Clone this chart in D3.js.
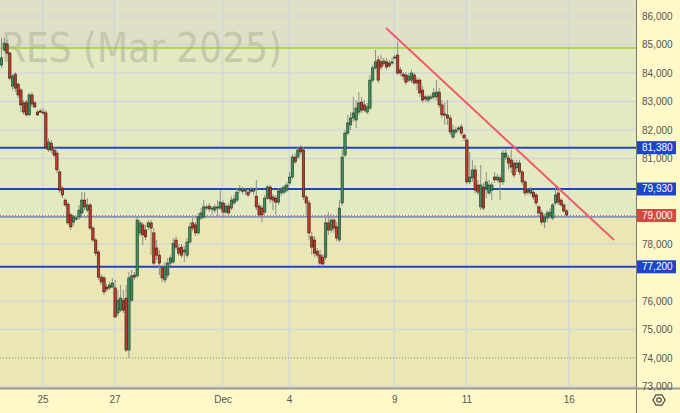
<!DOCTYPE html>
<html><head><meta charset="utf-8">
<script src="https://cdn.jsdelivr.net/npm/d3@7"></script>
<style>body{margin:0;background:#fff9c9;overflow:hidden}svg{display:block}</style>
</head><body><svg id="c" width="680" height="413"></svg>
<script>
const opens=[84280,84810,85020,84700,83540,83960,83610,83400,82950,82980,82530,83230,82950,82630,82670,82630,82600,81300,81540,81300,81190,80530,79960,79540,79400,79020,78770,78880,78950,79090,79540,79190,79370,78560,78140,77720,76840,76810,76490,76460,76490,76460,75580,75680,76030,76100,74280,76030,76910,76880,78390,78670,78490,78600,78740,78390,77860,77610,77160,76740,76910,77330,77370,78140,77860,77890,77720,77610,78070,78740,78670,78390,78910,78950,79260,79330,79230,79190,79260,79260,79440,79120,79330,79260,79440,79540,79890,79890,79860,79820,79890,79860,79680,79330,79260,79120,79610,80000,79650,79610,79470,79790,79820,79890,80140,80350,81050,81050,81370,81300,79650,79440,78250,78140,77750,77610,77540,77540,78740,78490,78840,78600,78140,79440,81120,81890,82180,82420,82350,82630,82980,82880,82630,82770,83750,84180,84460,84390,84320,84390,84350,84350,84530,84630,84110,83960,83930,83750,83750,83930,83750,83750,83400,83160,83050,83120,83160,83160,83330,82880,82560,82530,82420,81750,81930,82030,82110,81820,81650,80180,80320,80600,80070,79300,80000,79960,79790,79890,80350,80250,80320,80180,81050,81020,80950,80840,80670,80840,80530,80180,79890,79790,79820,79720,79300,79090,78770,78910,78980,78910,79440,79790,79540,79370,79160];
const highs=[85230,85230,85160,84740,83960,84030,83680,83470,83050,83050,83300,83330,83020,82700,82740,82770,82700,81720,81650,81400,81300,80600,80030,79610,79470,79090,79020,78980,79370,79820,79820,79610,79440,78630,78210,77790,76950,76880,76600,76670,76810,76740,76390,76560,76390,76560,77020,77090,77020,78950,78840,78770,78670,78840,78840,78560,78140,77790,77260,77370,77510,77610,78210,78280,78000,78000,77930,78210,78770,78910,78770,79090,79260,79540,79370,79440,79330,79400,79540,79890,79540,79440,79440,79680,79720,79960,80070,80000,79960,79930,80000,79930,80250,79440,79370,79720,80070,80070,79750,79720,79960,80000,80070,80180,80530,81160,81190,81400,81470,81400,79720,79540,78420,78280,77860,77790,77650,79020,79120,79050,79020,78770,79540,81300,82000,82530,82630,83160,83050,83330,83160,83050,82950,83930,84280,84810,84600,84630,84530,84530,84460,84530,84630,85090,84210,84030,84030,84000,84110,84030,83860,83820,83540,83230,83230,83260,83470,83750,83470,83050,82980,83050,82530,82180,82110,82140,82210,81890,81720,81230,80950,80770,80250,80770,80140,80530,80250,80180,80530,80460,80420,81300,81370,81120,81300,80950,80950,80950,80600,80250,79960,80000,79890,79790,79370,79190,79050,79190,79260,79440,80000,79890,79610,79440,79230];
const lows=[84180,84740,84630,83750,83400,83330,83120,82630,82530,82460,82490,82810,82770,82490,82600,82530,81300,81230,81190,81050,80490,79790,79610,79300,78670,78490,78630,78810,78840,79020,79190,79120,78490,78070,77580,76740,76560,76210,76320,76390,76460,75400,75470,75610,75580,74210,74000,75960,76740,76810,78280,77960,78140,78490,77610,77260,77440,76910,76670,76630,76810,77230,77300,77790,77580,77510,77370,77510,78000,78460,78280,78320,78840,78880,79190,79120,79020,79090,78910,79190,78910,79050,79020,79190,79370,79470,79790,79750,79720,79650,79790,79720,79190,78950,78770,79050,79540,79440,79190,79020,79370,79680,79750,79820,80070,80280,80810,80980,81120,79540,79020,78140,77610,77540,77510,77260,77230,77440,78320,78390,78390,78100,78070,79330,81050,81820,82000,82280,82070,82530,82600,82630,82560,82700,83680,84110,83650,84110,84250,84110,84180,84280,84460,83930,83890,83750,83580,83680,83650,83580,83400,83160,82950,82980,82950,83050,83050,83050,82770,82420,82180,82180,81820,81680,81860,81960,81820,81610,80100,80100,80180,79790,79720,79190,79190,79610,79720,79540,80140,80180,79540,80070,80950,80600,80490,80320,80530,80420,80070,79680,79720,79720,79540,79330,78980,78670,78560,78770,78880,78840,79370,79370,79300,79090,78980];
const closes=[84530,85050,84700,83820,83890,83470,83230,82880,82630,82530,83230,82910,82810,82530,82630,82600,81370,81580,81300,81120,80600,79890,79720,79370,78740,78600,78950,78910,79190,79540,79300,79370,78560,78140,77680,76840,76670,76320,76420,76560,76630,75440,76030,76100,75680,74280,76810,76880,76840,78840,78740,78320,78250,78740,78560,77330,77610,77330,76810,77190,77330,77510,78030,77890,77680,77610,77790,78070,78600,78560,78390,78950,79090,79300,79300,79230,79260,79300,79300,79470,79120,79330,79090,79540,79580,79820,79930,79860,79890,79720,79860,79890,79300,79020,79020,79610,80000,79580,79540,79470,79860,79890,80000,80070,80350,81050,80880,81300,81230,79650,79440,78390,77890,77680,77610,77330,77300,78740,78490,78840,78560,78210,79260,81050,81890,82250,82420,82600,82770,82950,82700,82700,82810,83750,84180,84390,83750,84210,84420,84210,84250,84390,84560,84000,84000,83890,83680,83890,84000,83650,83650,83300,83050,83090,83160,83160,83300,83330,82880,82530,82530,82420,81930,82000,82000,82070,81890,81720,80180,80350,80600,79890,79820,80070,79260,80180,80070,80070,80250,80350,80180,81190,81190,80840,80700,80420,80840,80530,80180,79790,79820,79890,79650,79440,79090,78770,78950,79090,79120,79370,79720,79470,79370,79160,79020];

// tick labels visible on the price axis (80,000 / 79,000 / 77,000 are hidden behind the price badges)
const yTicks=[86000,85000,84000,83000,82000,81000,78000,76000,75000,74000,73000];
const gridPrices=[86000,85000,84000,83000,82000,81000,78000,76000,75000,73000];
const xTickIdx=[15,41,80,104,142,168,205];
const xTickLabels=["25","27","Dec","4","9","11","16"];
const levelPrices=[81380,79930,77200];
const lastPrice=79000;
const greenLinePrice=84880;
const thinBluePrice=78950;
const dottedGreyPrice=74000;
const trendIdx=[139,221.3];
const trendPrice=[85580,78140];
const watermark="RES (Mar 2025)";

const plotR=636, plotB=388;
const svg=d3.select("#c");
const x=d3.scaleLinear().domain([0,204]).range([1,566.1]);
const y=d3.scaleLinear().domain([73000,86000]).range([386.5,16]);

svg.append("rect").attr("width",680).attr("height",413).attr("fill","#fff9c9");
svg.append("defs").append("clipPath").attr("id","plot").append("rect").attr("width",plotR).attr("height",plotB);
const g=svg.append("g").attr("clip-path","url(#plot)");

g.append("rect").attr("x",0).attr("y",0).attr("width",plotR).attr("height",y(greenLinePrice)).attr("fill","#e0e0c6");
g.append("rect").attr("x",0).attr("y",y(greenLinePrice)).attr("width",plotR).attr("height",y(thinBluePrice)-y(greenLinePrice)).attr("fill","#e3e9c0");
g.append("rect").attr("x",0).attr("y",y(thinBluePrice)).attr("width",plotR).attr("height",plotB-y(thinBluePrice)).attr("fill","#eae7b5");

// grid
g.selectAll("line.hg").data(gridPrices).join("line").attr("class","hg")
  .attr("x1",0).attr("x2",plotR).attr("y1",d=>y(d)).attr("y2",d=>y(d))
  .attr("stroke","#d2d8d8").attr("stroke-width",1.5);
g.selectAll("line.vg").data(xTickIdx).join("line").attr("class","vg")
  .attr("x1",d=>x(d)).attr("x2",d=>x(d)).attr("y1",0).attr("y2",plotB)
  .attr("stroke","#d2d8d8").attr("stroke-width",1.5);

// watermark
g.append("text").attr("x",1).attr("y",62).text(watermark)
  .attr("font-family","'DejaVu Sans Condensed','Liberation Sans',sans-serif").attr("font-size",40)
  .attr("fill","#c6c8ae");

// level lines
g.append("line").attr("x1",0).attr("x2",plotR).attr("y1",y(greenLinePrice)).attr("y2",y(greenLinePrice))
  .attr("stroke","#9fd032").attr("stroke-width",1.5);
g.append("line").attr("x1",0).attr("x2",plotR).attr("y1",y(thinBluePrice)).attr("y2",y(thinBluePrice))
  .attr("stroke","#3d55b5").attr("stroke-width",1);
g.append("line").attr("x1",0).attr("x2",plotR).attr("y1",y(dottedGreyPrice)).attr("y2",y(dottedGreyPrice))
  .attr("stroke","#8a8a80").attr("stroke-width",1).attr("stroke-dasharray","1,2");
g.append("line").attr("x1",0).attr("x2",plotR).attr("y1",y(lastPrice)).attr("y2",y(lastPrice))
  .attr("stroke","#e06060").attr("stroke-width",1).attr("stroke-dasharray","1,2");
g.selectAll("line.lvl").data(levelPrices).join("line").attr("class","lvl")
  .attr("x1",0).attr("x2",plotR).attr("y1",d=>y(d)).attr("y2",d=>y(d))
  .attr("stroke","#1f45c8").attr("stroke-width",2);

// candles
const candles=opens.map((o,i)=>({i,o,h:highs[i],l:lows[i],c:closes[i]}));
const cg=g.append("g");
cg.selectAll("line.wk").data(candles).join("line").attr("class","wk")
  .attr("x1",d=>x(d.i)+0.5).attr("x2",d=>x(d.i)+0.5).attr("y1",d=>y(d.h)).attr("y2",d=>y(d.l))
  .attr("stroke","#8e908a").attr("stroke-width",1);
cg.selectAll("rect.bd").data(candles).join("rect").attr("class","bd")
  .attr("x",d=>x(d.i)-0.7).attr("width",2.4)
  .attr("y",d=>y(Math.max(d.o,d.c)))
  .attr("height",d=>Math.max(1,Math.abs(y(d.o)-y(d.c))))
  .attr("fill",d=>d.c>=d.o?"#3f8c5c":"#c0392b")
  .attr("stroke",d=>d.c>=d.o?"#1d3b28":"#3d1a12").attr("stroke-width",0.6);

// trend line
g.append("line").attr("x1",x(trendIdx[0])).attr("x2",x(trendIdx[1]))
  .attr("y1",y(trendPrice[0])).attr("y2",y(trendPrice[1]))
  .attr("stroke","#f05c6c").attr("stroke-width",2);

// axes background & borders
svg.append("rect").attr("x",plotR).attr("y",0).attr("width",680-plotR).attr("height",413).attr("fill","#fff9c9");
svg.append("rect").attr("x",0).attr("y",plotB).attr("width",680).attr("height",413-plotB).attr("fill","#fff9c9");
svg.append("line").attr("x1",plotR+0.5).attr("x2",plotR+0.5).attr("y1",0).attr("y2",413).attr("stroke","#7a7a72").attr("stroke-width",1);
svg.append("line").attr("x1",0).attr("x2",680).attr("y1",plotB+0.5).attr("y2",plotB+0.5).attr("stroke","#9a9a8c").attr("stroke-width",2);

const fontF="'Liberation Sans',Arial,sans-serif";
// right axis
const ya=svg.append("g").attr("transform",`translate(${plotR},0)`)
  .call(d3.axisRight(y).tickValues(yTicks).tickFormat(d3.format(",")).tickSize(0).tickPadding(6));
ya.select(".domain").remove();
ya.selectAll("text").attr("font-family",fontF).attr("font-size",10).attr("fill","#555");

// bottom axis
const xa=svg.append("g").attr("transform",`translate(0,${plotB})`)
  .call(d3.axisBottom(x).tickValues(xTickIdx).tickFormat((d,i)=>xTickLabels[i]).tickSize(0).tickPadding(8));
xa.select(".domain").remove();
xa.selectAll("text").attr("font-family",fontF).attr("font-size",10).attr("fill","#555");

// badges
const badges=levelPrices.map(p=>({p,col:"#1c45c9"})).concat([{p:lastPrice,col:"#d9483c"}]);
const bg=svg.selectAll("g.badge").data(badges).join("g").attr("class","badge")
  .attr("transform",d=>`translate(${plotR+1},${y(d.p)})`);
bg.append("rect").attr("x",0).attr("y",-6.5).attr("width",39).attr("height",13).attr("fill",d=>d.col);
bg.append("text").attr("x",5).attr("dy","0.35em").text(d=>d3.format(",")(d.p))
  .attr("font-family",fontF).attr("font-size",10).attr("fill","#fff");

// gear icon
const gear=svg.append("g").attr("transform","translate(659,400)");
const hex=d3.range(6).map(k=>{const a=Math.PI/3*k;return [6*Math.cos(a),6*Math.sin(a)];});
gear.append("path").attr("d",d3.line()(hex)+"Z").attr("fill","none").attr("stroke","#444").attr("stroke-width",1.2);
gear.append("circle").attr("r",2.2).attr("fill","none").attr("stroke","#444").attr("stroke-width",1.2);
</script></body></html>
